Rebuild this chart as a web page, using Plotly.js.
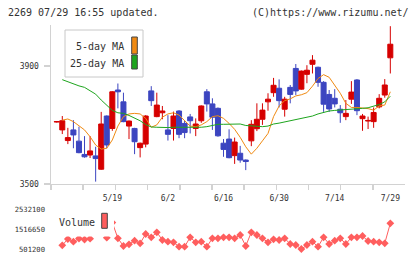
<!DOCTYPE html>
<html>
<head>
<meta charset="utf-8">
<script src="https://cdn.plot.ly/plotly-3.0.1.min.js"></script>
<style>html,body{margin:0;padding:0;background:#fff;}#chart{width:420px;height:259px;}</style>
</head>
<body>
<div id="chart"></div>
<script>
// Trading days (2025-05-01 .. 2025-07-29)
var dates = ["5/1","5/2","5/7","5/8","5/9","5/12","5/13","5/14","5/15","5/16",
  "5/19","5/20","5/21","5/22","5/23","5/26","5/27","5/28","5/29","5/30",
  "6/2","6/3","6/4","6/5","6/6","6/9","6/10","6/11","6/12","6/13",
  "6/16","6/17","6/18","6/19","6/20","6/23","6/24","6/25","6/26","6/27",
  "6/30","7/1","7/2","7/3","7/4","7/7","7/8","7/9","7/10","7/11",
  "7/14","7/15","7/16","7/17","7/18","7/22","7/23","7/24","7/25","7/28","7/29"];
var tickLabels = ["5/19","6/2","6/16","6/30","7/14","7/29"];

var openP  = [3710,3683,3647,3683,3645,3600,3598,3595,3550,3730,3688,3818,3778,3696,3688,3623,3635,3815,3728,3741,
  3683,3688,3747,3705,3727,3688,3714,3812,3771,3756,3638,3652,3596,3604,3581,3646,3687,3719,3778,3809,
  3824,3753,3827,3891,3821,3871,3905,3895,3844,3803,3790,3753,3728,3787,3852,3721,3713,3711,3761,3801,3927];
var highP  = [3712,3730,3690,3716,3694,3662,3662,3626,3744,3732,3814,3840,3809,3715,3690,3640,3733,3831,3809,3764,
  3733,3745,3750,3714,3737,3722,3766,3821,3790,3759,3652,3685,3657,3629,3583,3716,3773,3773,3807,3859,
  3854,3795,3835,3906,3884,3902,3936,3897,3848,3818,3821,3767,3784,3848,3855,3737,3728,3759,3804,3855,4034];
var lowP   = [3708,3669,3635,3621,3604,3589,3588,3508,3548,3621,3680,3756,3709,3652,3601,3590,3624,3764,3726,3719,
  3647,3647,3655,3655,3671,3662,3707,3745,3683,3660,3592,3587,3568,3572,3547,3628,3679,3700,3748,3795,
  3759,3728,3773,3801,3819,3841,3874,3829,3744,3744,3759,3707,3716,3771,3733,3680,3686,3690,3756,3792,3874];
var closeP = [3711,3714,3657,3666,3606,3592,3612,3586,3703,3632,3812,3812,3711,3713,3643,3638,3730,3782,3767,3747,
  3668,3730,3668,3674,3714,3703,3764,3771,3726,3663,3617,3589,3642,3581,3576,3702,3719,3750,3787,3834,
  3782,3787,3803,3815,3882,3885,3919,3844,3770,3754,3771,3741,3739,3811,3748,3730,3715,3742,3790,3835,3973];

var ma5 = [null,3716,3720,3711,3696,3683,3660,3632,3618,3621,3649,3696,3728,3737,3739,3737,3722,3692,3700,3726,
  3737,3741,3733,3714,3696,3694,3700,3711,3728,3731,3722,3705,3685,3658,3626,3601,3621,3646,3671,3728,
  3764,3782,3788,3798,3802,3809,3831,3857,3870,3861,3835,3807,3773,3759,3759,3758,3755,3750,3764,3767,3812];
var ma25 = [null,3853,3846,3838,3832,3827,3815,3804,3784,3767,3749,3741,3739,3732,3724,3714,3701,3693,3692,3691,
  3691,3692,3692,3691,3691,3692,3692,3694,3698,3702,3702,3702,3703,3703,3698,3696,3695,3694,3696,3703,
  3706,3710,3713,3716,3720,3725,3730,3737,3743,3747,3749,3750,3751,3753,3755,3756,3758,3764,3769,3778,3797];

var volume = [null,690000,1013000,875000,1038000,987000,1028000,1900000,2532100,1079000,1852000,1049000,655000,742000,926000,793000,1269000,1100000,1356000,962000,
  875000,844000,619000,619000,1100000,844000,875000,619000,1049000,1049000,1100000,1100000,1049000,1217000,655000,1356000,1217000,1049000,844000,997000,
  962000,1049000,757000,706000,501200,706000,875000,619000,1100000,757000,926000,1049000,757000,1100000,1100000,1166000,910000,875000,844000,793000,1816000];
var volTicks = [501200,1516650,2532100];
var priceTicks = [3500,3900];

var idx = dates.map(function(d,i){return i;});
var tickIdx = tickLabels.map(function(t){return dates.indexOf(t);});

var RED='#d60000', BLUE='#3c45c0', ORANGE='#f08a12', GREEN='#1ea51e', VOL='#ff5e5e';
var AX='#d2d2d2';
var FONT='DejaVu Sans Mono';

var traces = [
  {type:'candlestick', x:idx, open:openP, high:highP, low:lowP, close:closeP, xaxis:'x', yaxis:'y',
   increasing:{line:{color:RED,width:1}, fillcolor:RED},
   decreasing:{line:{color:BLUE,width:1}, fillcolor:BLUE},
   whiskerwidth:0, hoverinfo:'none'},
  {type:'scatter', mode:'lines', x:idx, y:ma5, line:{color:ORANGE,width:1}, hoverinfo:'none'},
  {type:'scatter', mode:'lines', x:idx, y:ma25, line:{color:GREEN,width:1}, hoverinfo:'none'},
  {type:'scatter', mode:'lines+markers', x:idx, y:volume, xaxis:'x2', yaxis:'y2',
   line:{color:VOL,width:1}, marker:{symbol:'diamond',size:6,color:VOL}, cliponaxis:false, hoverinfo:'none'}
];

function px(x){return (x-51)/354;}
function py(y){return (249-y)/224;}

var layout = {
  width:420, height:259,
  margin:{l:51,r:15,t:25,b:10,pad:0},
  paper_bgcolor:'#fff', plot_bgcolor:'#fff',
  showlegend:false,
  boxgap:0.1, boxgroupgap:0,
  font:{family:FONT,size:8,color:'#333'},
  title:{text:'2269 07/29 16:55 updated.', x:8/420, xanchor:'left', xref:'container',
         y:1-12/259, yref:'container', yanchor:'middle', font:{family:FONT,size:10,color:'#333'}},
  xaxis:{type:'linear', range:[-1.03,62.64], domain:[0,1], anchor:'y',
    showline:true, linecolor:AX, linewidth:1.5, showgrid:false, zeroline:false,
    tickmode:'array', tickvals:tickIdx, ticktext:tickLabels, ticks:'', ticklabelstandoff:6,
    tickfont:{family:FONT,size:8,color:'#333'},
    minor:{ticks:'outside', ticklen:5, tickwidth:1.5, tickcolor:AX, tickmode:'linear', tick0:-1.03, dtick:5.79, showgrid:false},
    rangeslider:{visible:false}, fixedrange:true},
  yaxis:{domain:[0.2902,1], range:[3500,4038], anchor:'x',
    showline:true, linecolor:AX, linewidth:1.5, showgrid:false, zeroline:false,
    tickmode:'array', tickvals:priceTicks, ticks:'outside', ticklen:6, tickwidth:1.5, tickcolor:AX,
    ticklabelstandoff:3,
    tickfont:{family:FONT,size:8,color:'#333'}, fixedrange:true},
  xaxis2:{type:'linear', range:[-1.03,62.64], domain:[0,1], anchor:'y2', visible:false, fixedrange:true},
  yaxis2:{domain:[0,0.1772], range:[501200,2532100], anchor:'x2',
    showline:false, showgrid:false, zeroline:false, ticks:'',
    tickmode:'array', tickvals:volTicks, ticktext:volTicks.map(String), ticklabelstandoff:5,
    tickfont:{family:FONT,size:7.2,color:'#333'}, fixedrange:true},
  shapes:[
    {type:'rect', xref:'paper', yref:'paper', x0:px(65), x1:px(143), y0:py(77), y1:py(30),
     line:{color:'#c8c8c8',width:1}, fillcolor:'#fff', layer:'above'},
    {type:'rect', xref:'paper', yref:'paper', x0:px(131.7), x1:px(137.3), y0:py(54), y1:py(37),
     line:{color:'#444',width:1}, fillcolor:ORANGE, layer:'above'},
    {type:'rect', xref:'paper', yref:'paper', x0:px(131.7), x1:px(137.3), y0:py(69), y1:py(55),
     line:{color:'#444',width:1}, fillcolor:GREEN, layer:'above'},
    {type:'rect', xref:'paper', yref:'paper', x0:px(55), x1:px(114), y0:py(236.5), y1:py(205),
     line:{width:0}, fillcolor:'#fff', layer:'above'},
    {type:'rect', xref:'paper', yref:'paper', x0:px(101.7), x1:px(107.3), y0:py(228.3), y1:py(213.3),
     line:{color:'#444',width:1}, fillcolor:VOL, layer:'above'}
  ],
  annotations:[
    {text:'5-day MA', xref:'paper', yref:'paper', x:px(126), y:py(46), xanchor:'right', yanchor:'middle',
     showarrow:false, font:{family:FONT,size:10,color:'#333'}},
    {text:'25-day MA', xref:'paper', yref:'paper', x:px(126), y:py(63.3), xanchor:'right', yanchor:'middle',
     showarrow:false, font:{family:FONT,size:10,color:'#333'}},
    {text:'Volume', xref:'paper', yref:'paper', x:px(57), y:py(222.3), xanchor:'left', yanchor:'middle',
     showarrow:false, font:{family:FONT,size:10,color:'#333'}},
    {text:'(C)https://www.rizumu.net/', xref:'paper', yref:'paper', x:px(411), y:py(12), xanchor:'right', yanchor:'middle',
     showarrow:false, font:{family:FONT,size:10,color:'#333'}}
  ]
};

Plotly.newPlot('chart', traces, layout, {staticPlot:true, displayModeBar:false});
</script>
</body>
</html>
